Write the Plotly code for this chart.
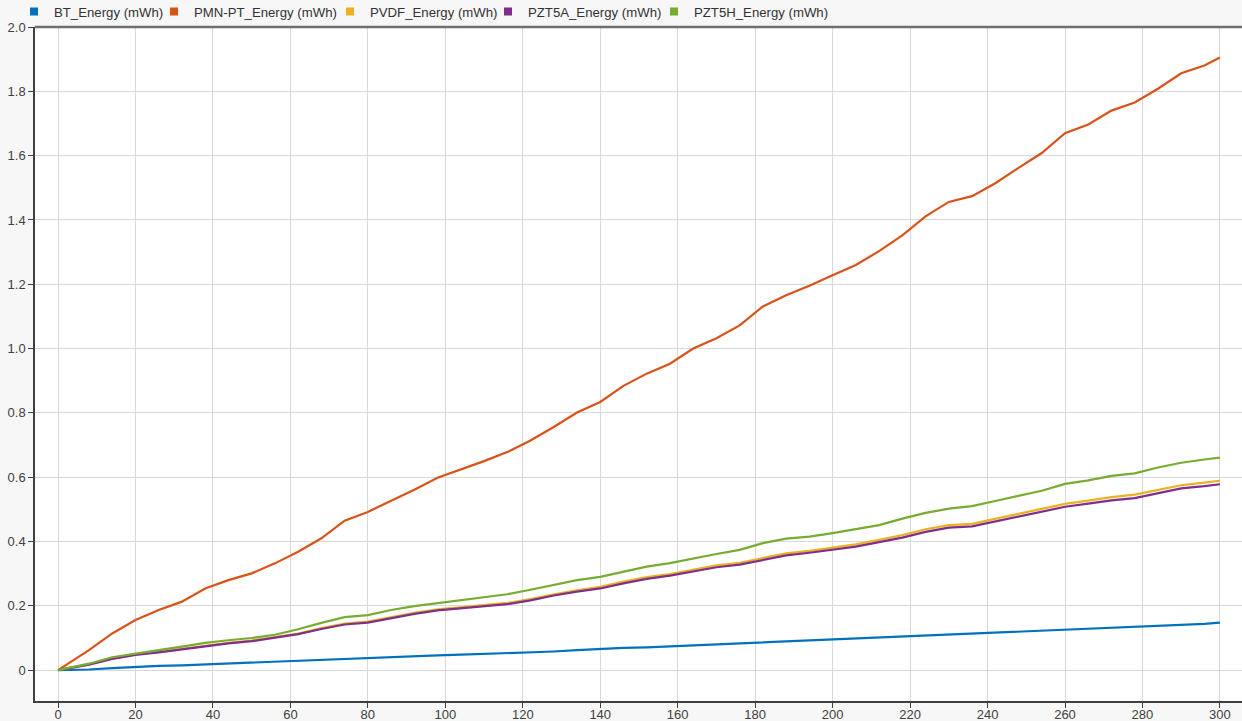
import plotly.graph_objects as go

# ---- data ----
time_s = [0, 8, 14, 20, 26, 32, 38, 44, 50, 56, 62, 68, 74, 80, 86, 92, 98, 104, 110, 116,
          122, 128, 134, 140, 146, 152, 158, 164, 170, 176, 182, 188, 194, 200, 206, 212, 218,
          224, 230, 236, 242, 248, 254, 260, 266, 272, 278, 284, 290, 296, 300]

bt_energy = [0, 0.002, 0.006, 0.010, 0.013, 0.015, 0.018, 0.021, 0.022, 0.026, 0.030, 0.033,
             0.036, 0.037, 0.040, 0.043, 0.046, 0.048, 0.050, 0.052, 0.055, 0.058, 0.062,
             0.066, 0.069, 0.071, 0.074, 0.077, 0.080, 0.083, 0.086, 0.089, 0.091, 0.094,
             0.097, 0.100, 0.103, 0.107, 0.110, 0.112, 0.115, 0.118, 0.121, 0.125, 0.128,
             0.131, 0.135, 0.138, 0.140, 0.144, 0.148]

pmnpt_energy = [0, 0.062, 0.114, 0.156, 0.187, 0.213, 0.254, 0.280, 0.301, 0.332, 0.368,
                0.410, 0.465, 0.492, 0.527, 0.561, 0.598, 0.623, 0.650, 0.678, 0.714, 0.756,
                0.801, 0.834, 0.884, 0.922, 0.953, 1.000, 1.032, 1.072, 1.131, 1.166, 1.195,
                1.228, 1.260, 1.303, 1.352, 1.411, 1.456, 1.474, 1.514, 1.562, 1.608, 1.670,
                1.697, 1.740, 1.765, 1.808, 1.856, 1.880, 1.905]

pvdf_energy = [0, 0.018, 0.036, 0.049, 0.057, 0.067, 0.077, 0.085, 0.092, 0.102, 0.114,
               0.131, 0.145, 0.151, 0.165, 0.178, 0.189, 0.196, 0.204, 0.209, 0.221, 0.236,
               0.248, 0.259, 0.275, 0.289, 0.299, 0.313, 0.326, 0.334, 0.349, 0.363, 0.371,
               0.381, 0.391, 0.405, 0.420, 0.438, 0.451, 0.455, 0.470, 0.486, 0.501, 0.517,
               0.527, 0.538, 0.546, 0.560, 0.575, 0.583, 0.589]

pzt5a_energy = [0, 0.017, 0.035, 0.047, 0.055, 0.065, 0.075, 0.083, 0.090, 0.100, 0.112,
                0.128, 0.142, 0.148, 0.162, 0.175, 0.186, 0.192, 0.200, 0.205, 0.217, 0.232,
                0.244, 0.254, 0.270, 0.284, 0.294, 0.308, 0.320, 0.328, 0.343, 0.357, 0.365,
                0.375, 0.384, 0.398, 0.412, 0.430, 0.443, 0.447, 0.462, 0.477, 0.492, 0.508,
                0.518, 0.528, 0.535, 0.550, 0.565, 0.572, 0.578]

pzt5h_energy = [0, 0.020, 0.040, 0.052, 0.062, 0.073, 0.085, 0.093, 0.100, 0.110, 0.127,
                0.147, 0.165, 0.171, 0.187, 0.199, 0.208, 0.217, 0.225, 0.236, 0.250, 0.266,
                0.280, 0.290, 0.307, 0.322, 0.333, 0.348, 0.361, 0.374, 0.395, 0.409, 0.415,
                0.426, 0.439, 0.451, 0.471, 0.489, 0.502, 0.510, 0.526, 0.543, 0.558, 0.579,
                0.590, 0.604, 0.612, 0.630, 0.645, 0.655, 0.661]

series_names = ["BT_Energy (mWh)", "PMN-PT_Energy (mWh)", "PVDF_Energy (mWh)",
                "PZT5A_Energy (mWh)", "PZT5H_Energy (mWh)"]
series_values = [bt_energy, pmnpt_energy, pvdf_energy, pzt5a_energy, pzt5h_energy]
series_colors = ["#0072BD", "#D95319", "#EDB120", "#7E2F8E", "#77AC30"]

x_ticks = list(range(0, 301, 20))
y_tickvals = [0, 0.2, 0.4, 0.6, 0.8, 1.0, 1.2, 1.4, 1.6, 1.8, 2.0]
y_ticktext = ["0", "0.2", "0.4", "0.6", "0.8", "1.0", "1.2", "1.4", "1.6", "1.8", "2.0"]

FONT = "Liberation Sans, Arial, Helvetica, sans-serif"
W, H = 1242, 721
ML, MR, MT, MB = 35, 0, 27, 20
plot_w = W - ML - MR
plot_h = H - MT - MB

# left edge (in pixels) of each legend entry, as in the reference row
legend_left_px = [14, 154, 330, 488, 654]
legend_keys = ["legend", "legend2", "legend3", "legend4", "legend5"]

fig = go.Figure()

for i in range(5):
    fig.add_trace(go.Scatter(
        x=time_s, y=series_values[i], mode="lines", name=series_names[i],
        line=dict(color=series_colors[i], width=2.2), showlegend=False))

# legend entries with square swatches
for i in range(5):
    fig.add_trace(go.Scatter(
        x=[None], y=[None], mode="markers", name=series_names[i],
        marker=dict(symbol="square", size=8, color=series_colors[i]),
        showlegend=True, legend=legend_keys[i]))

legends = {}
for i, key in enumerate(legend_keys):
    legends[key] = dict(orientation="h", x=(legend_left_px[i] - ML) / plot_w,
                        xanchor="left", y=1 + (MT - 12) / plot_h, yanchor="middle",
                        font=dict(family=FONT, size=13.2, color="#333333"),
                        bgcolor="rgba(0,0,0,0)", borderwidth=0)

fig.update_layout(
    width=W, height=H,
    margin=dict(l=ML, r=MR, t=MT, b=MB, autoexpand=False),
    paper_bgcolor="#f7f7f7",
    plot_bgcolor="#ffffff",
    font=dict(family=FONT, size=13, color="#404040"),
    xaxis=dict(range=[-5.94, 305.7], tickvals=x_ticks, showgrid=True,
               gridcolor="#d9d9d9", gridwidth=1, zeroline=False,
               showline=True, linecolor="#404040", linewidth=1.5,
               ticks="outside", ticklen=5, tickcolor="#404040",
               ticklabelstandoff=-4,
               tickfont=dict(size=13, color="#404040")),
    yaxis=dict(range=[-0.096, 2.0], tickvals=y_tickvals, ticktext=y_ticktext,
               showgrid=True, gridcolor="#d9d9d9", gridwidth=1, zeroline=False,
               showline=True, linecolor="#404040", linewidth=1.5,
               ticks="outside", ticklen=5, tickcolor="#404040",
               tickfont=dict(size=13, color="#404040")),
    shapes=[dict(type="line", xref="paper", yref="paper", x0=0, x1=1, y0=1, y1=1,
                 line=dict(color="#6e6e6e", width=2.5))],
    **legends,
)

fig.write_html("out.html",
               config={"displayModeBar": False},
               post_script="document.body.style.margin='0';document.body.style.padding='0';"
                           "document.body.style.overflow='hidden';")
